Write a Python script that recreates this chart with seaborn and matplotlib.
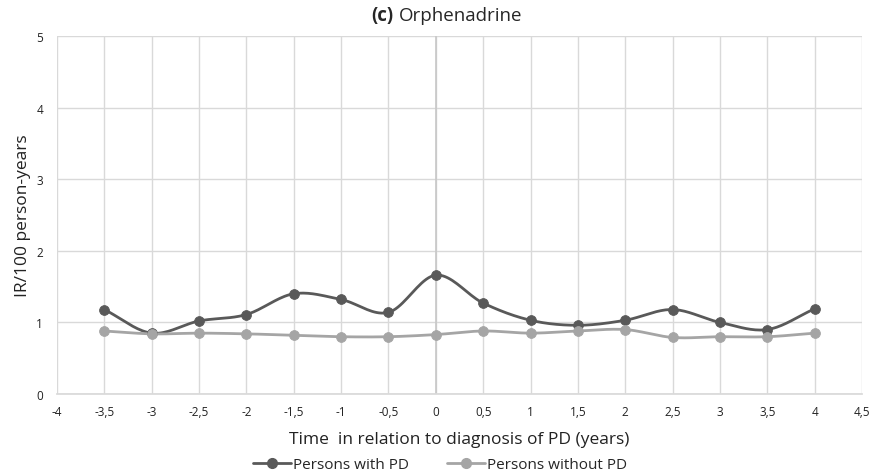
import numpy as np
import pandas as pd
import matplotlib
matplotlib.use("Agg")
import matplotlib.pyplot as plt
import seaborn as sns
from matplotlib.lines import Line2D

# ---- data ----
years = [-3.5, -3, -2.5, -2, -1.5, -1, -0.5, 0, 0.5, 1, 1.5, 2, 2.5, 3, 3.5, 4]
with_pd = [1.18, 0.85, 1.02, 1.11, 1.40, 1.32, 1.14, 1.66, 1.27, 1.03, 0.96, 1.03, 1.18, 1.00, 0.90, 1.19]
without_pd = [0.88, 0.84, 0.85, 0.84, 0.82, 0.80, 0.80, 0.83, 0.88, 0.85, 0.88, 0.90, 0.79, 0.80, 0.80, 0.85]
xticks = [-4, -3.5, -3, -2.5, -2, -1.5, -1, -0.5, 0, 0.5, 1, 1.5, 2, 2.5, 3, 3.5, 4, 4.5]
xtick_labels = ["-4", "-3,5", "-3", "-2,5", "-2", "-1,5", "-1", "-0,5", "0", "0,5", "1", "1,5",
                "2", "2,5", "3", "3,5", "4", "4,5"]
yticks = [0, 1, 2, 3, 4, 5]
series_names = ["Persons with PD", "Persons without PD"]
colors = ["#595959", "#a5a5a5"]


def smooth(x, y, n=20):
    """Catmull-Rom style smoothing (like Excel 'smoothed line') for display."""
    x = np.asarray(x, float)
    y = np.asarray(y, float)
    px = np.concatenate([[2 * x[0] - x[1]], x, [2 * x[-1] - x[-2]]])
    py = np.concatenate([[2 * y[0] - y[1]], y, [2 * y[-1] - y[-2]]])
    xs, ys = [], []
    t = np.linspace(0, 1, n, endpoint=False)
    f = lambda a0, a1, a2, a3: 0.5 * ((2 * a1) + (-a0 + a2) * t +
                                     (2 * a0 - 5 * a1 + 4 * a2 - a3) * t ** 2 +
                                     (-a0 + 3 * a1 - 3 * a2 + a3) * t ** 3)
    for i in range(1, len(px) - 2):
        xs.append(f(px[i - 1], px[i], px[i + 1], px[i + 2]))
        ys.append(f(py[i - 1], py[i], py[i + 1], py[i + 2]))
    xs.append([x[-1]])
    ys.append([y[-1]])
    return np.concatenate(xs), np.concatenate(ys)


sns.set_theme(style="white")
plt.rcParams['font.family'] = ['Open Sans', 'DejaVu Sans']

fig = plt.figure(figsize=(8.8, 4.77), dpi=100)
ax = fig.add_axes([57 / 880, 1 - 395 / 477, (862 - 57) / 880, (395 - 37) / 477])

for name, vals, c in zip(series_names, [with_pd, without_pd], colors):
    sx, sy = smooth(years, vals)
    sdf = pd.DataFrame({"x": sx, "y": sy})
    sns.lineplot(data=sdf, x="x", y="y", sort=False, color=c, linewidth=2, ax=ax, zorder=3)
    pdf = pd.DataFrame({"x": years, "y": vals})
    sns.scatterplot(data=pdf, x="x", y="y", color=c, s=50, edgecolor=c, ax=ax, zorder=4)

ax.set_xlim(-4, 4.5)
ax.set_ylim(0, 5)
ax.set_xticks(xticks)
ax.set_xticklabels(xtick_labels, fontsize=8.5)
ax.set_yticks(yticks)
ax.set_yticklabels([str(v) for v in yticks], fontsize=8.5)
ax.grid(True, color="#d9d9d9", linewidth=1)
ax.axvline(0, color="#c8c8c8", linewidth=1.2, zorder=1)
ax.set_axisbelow(True)
for s in ["top", "right", "left"]:
    ax.spines[s].set_visible(False)
ax.spines["bottom"].set_color("#d9d9d9")
ax.tick_params(axis="x", length=0, pad=8, colors="#222222")
ax.tick_params(axis="y", length=0, pad=10, colors="#222222")
ax.set_xlabel("Time  in relation to diagnosis of PD (years)", fontsize=12.5, color="#222222", labelpad=9)
ax.set_ylabel("IR/100 person-years", fontsize=12.5, color="#222222")
ax.yaxis.set_label_coords(-0.032, 0.5)

fig.text(393 / 880, 1 - 16 / 477, "(c)", ha="right", va="center", fontsize=13.5, fontweight="bold")
fig.text(399 / 880, 1 - 16 / 477, "Orphenadrine", ha="left", va="center", fontsize=13.5)

handles = [Line2D([0], [0], color=c, marker="o", markersize=7, linewidth=2) for c in colors]
fig.legend(handles, series_names, loc="center", bbox_to_anchor=(0.5, 1 - 466 / 477), ncol=2,
           frameon=False, fontsize=11, handlelength=2.5, columnspacing=2.5, handletextpad=0.1)

fig.savefig("out.png", dpi=100)
